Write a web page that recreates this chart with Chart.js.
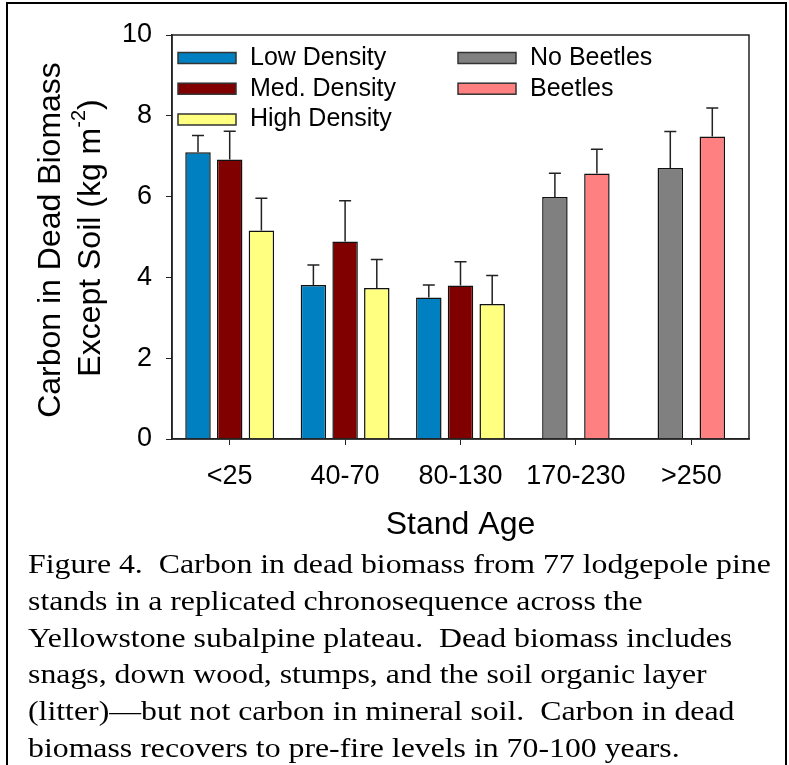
<!DOCTYPE html>
<html>
<head>
<meta charset="utf-8">
<script src="https://cdn.jsdelivr.net/npm/chart.js@4.4.1/dist/chart.umd.min.js"></script>
<style>
  html, body { margin:0; padding:0; background:#fff; overflow:hidden; }
  #wrap { position:relative; width:789px; height:765px; }
  #frame { position:absolute; left:6px; top:2px; width:781px; height:800px; border:2px solid #000; box-sizing:border-box; }
  #c { position:absolute; left:0; top:0; }
  #caption { position:absolute; left:28px; top:546px; font-family:"Liberation Serif","Times New Roman",serif; font-size:26.5px; line-height:36.8px; white-space:pre; color:#000; transform:scaleX(1.2); transform-origin:0 0; }
</style>
</head>
<body>
<div id="wrap">
  <div id="frame"></div>
  <canvas id="c" width="789" height="560"></canvas>
  <div id="caption">Figure 4.  Carbon in dead biomass from 77 lodgepole pine
stands in a replicated chronosequence across the
Yellowstone subalpine plateau.  Dead biomass includes
snags, down wood, stumps, and the soil organic layer
(litter)—but not carbon in mineral soil.  Carbon in dead
biomass recovers to pre-fire levels in 70-100 years.</div>
</div>
<script>
var ages = ["<25", "40-70", "80-130", "170-230", ">250"];

var lowDensity  = [7.10, 3.81, 3.50, null, null];
var lowErr      = [0.41, 0.50, 0.31, null, null];
var medDensity  = [6.92, 4.89, 3.80, null, null];
var medErr      = [0.70, 1.01, 0.59, null, null];
var highDensity = [5.16, 3.74, 3.34, null, null];
var highErr     = [0.80, 0.70, 0.71, null, null];
var noBeetles   = [null, null, null, 5.99, 6.71];
var noBeetlesErr= [null, null, null, 0.59, 0.90];
var beetles     = [null, null, null, 6.57, 7.49];
var beetlesErr  = [null, null, null, 0.60, 0.70];

var yTicks = [0, 2, 4, 6, 8, 10];

var sans = "'Liberation Sans', Arial, sans-serif";

// upper whiskers with a cap
var errorBars = {
  id: 'errorBars',
  afterDatasetsDraw: function(chart) {
    var ctx = chart.ctx;
    var y = chart.scales.y;
    ctx.save();
    ctx.strokeStyle = '#222';
    ctx.lineWidth = 1.5;
    chart.data.datasets.forEach(function(ds, i) {
      var meta = chart.getDatasetMeta(i);
      meta.data.forEach(function(bar, j) {
        if (ds.data[j] == null) return;
        var top = y.getPixelForValue(ds.data[j] + ds.err[j]);
        ctx.beginPath();
        ctx.moveTo(bar.x, bar.y);
        ctx.lineTo(bar.x, top);
        ctx.moveTo(bar.x - 6, top);
        ctx.lineTo(bar.x + 6, top);
        ctx.stroke();
      });
    });
    ctx.restore();
  }
};

// box around plot + legend + y title
var extras = {
  id: 'extras',
  afterDraw: function(chart) {
    var ctx = chart.ctx;
    var a = chart.chartArea;
    ctx.save();
    ctx.strokeStyle = '#222';
    ctx.lineWidth = 1.5;
    ctx.strokeRect(a.left, a.top, a.right - a.left, a.bottom - a.top);

    // legend
    var spots = [[178, 58], [178, 88.7], [178, 119.5], [458, 58], [458, 88.7]];
    ctx.font = '25px ' + sans;
    ctx.textBaseline = 'middle';
    ctx.textAlign = 'left';
    chart.data.datasets.forEach(function(ds, i) {
      var p = spots[i];
      ctx.fillStyle = ds.backgroundColor;
      ctx.fillRect(p[0], p[1] - 5.5, 58, 11);
      ctx.strokeStyle = '#333';
      ctx.lineWidth = 1.5;
      ctx.strokeRect(p[0], p[1] - 5.5, 58, 11);
      ctx.fillStyle = '#000';
      ctx.fillText(ds.label, p[0] + 72, p[1]);
    });

    // y axis title, two lines with a superscript
    ctx.fillStyle = '#000';
    ctx.textBaseline = 'alphabetic';
    ctx.save();
    ctx.translate(60, 240);
    ctx.rotate(-Math.PI / 2);
    ctx.font = '32px ' + sans;
    ctx.textAlign = 'center';
    ctx.fillText('Carbon in Dead Biomass', 0, 0);
    ctx.restore();

    ctx.save();
    ctx.translate(100, 238);
    ctx.rotate(-Math.PI / 2);
    ctx.textAlign = 'left';
    ctx.font = '32px ' + sans;
    var t1 = 'Except Soil (kg m', t3 = ')';
    var w1 = ctx.measureText(t1).width, w3 = ctx.measureText(t3).width;
    ctx.font = '20px ' + sans;
    var w2 = ctx.measureText('-2').width;
    var x0 = -(w1 + w2 + w3) / 2;
    ctx.font = '32px ' + sans;
    ctx.fillText(t1, x0, 0);
    ctx.fillText(t3, x0 + w1 + w2, 0);
    ctx.font = '20px ' + sans;
    ctx.fillText('-2', x0 + w1, -15);
    ctx.restore();
    ctx.restore();
  }
};

function bars(label, data, err, color, n) {
  return {
    label: label,
    data: data,
    err: err,
    skipNull: true,
    backgroundColor: color,
    borderColor: '#111',
    borderWidth: 1.5,
    categoryPercentage: n === 3 ? 0.824 : 0.728,
    barPercentage: n === 3 ? 0.804 : 0.607
  };
}

var ctx = document.getElementById('c').getContext('2d');
var chart = new Chart(ctx, {
  type: 'bar',
  data: {
    labels: ages,
    datasets: [
      bars('Low Density', lowDensity, lowErr, '#0080C0', 3),
      bars('Med. Density', medDensity, medErr, '#800000', 3),
      bars('High Density', highDensity, highErr, '#FFFF80', 3),
      bars('No Beetles', noBeetles, noBeetlesErr, '#808080', 2),
      bars('Beetles', beetles, beetlesErr, '#FF8080', 2)
    ]
  },
  options: {
    responsive: false,
    animation: false,
    layout: { padding: { left: 0, top: 35, right: 40, bottom: 0 } },
    plugins: { legend: { display: false }, tooltip: { enabled: false } },
    scales: {
      x: {
        offset: true,
        grid: { display: true, drawOnChartArea: false, drawTicks: true, tickLength: 6, color: '#222', offset: false },
        border: { display: true, color: '#222', width: 1.5 },
        ticks: { color: '#000', font: { size: 27, family: sans }, padding: 15 },
        title: { display: true, text: 'Stand Age', color: '#000', font: { size: 32, family: sans }, padding: { top: 0, bottom: 16 } },
        afterFit: function(s) { s.height = 121; }
      },
      y: {
        min: 0,
        max: 10,
        afterBuildTicks: function(s) { s.ticks = yTicks.map(function(v) { return { value: v }; }); },
        grid: { drawOnChartArea: false, drawTicks: true, tickLength: 6, color: '#222' },
        border: { display: true, color: '#222', width: 1.5 },
        ticks: { color: '#000', font: { size: 27, family: sans }, padding: 14 },
        afterFit: function(s) { s.width = 172; }
      }
    }
  },
  plugins: [errorBars, extras]
});
</script>
</body>
</html>
